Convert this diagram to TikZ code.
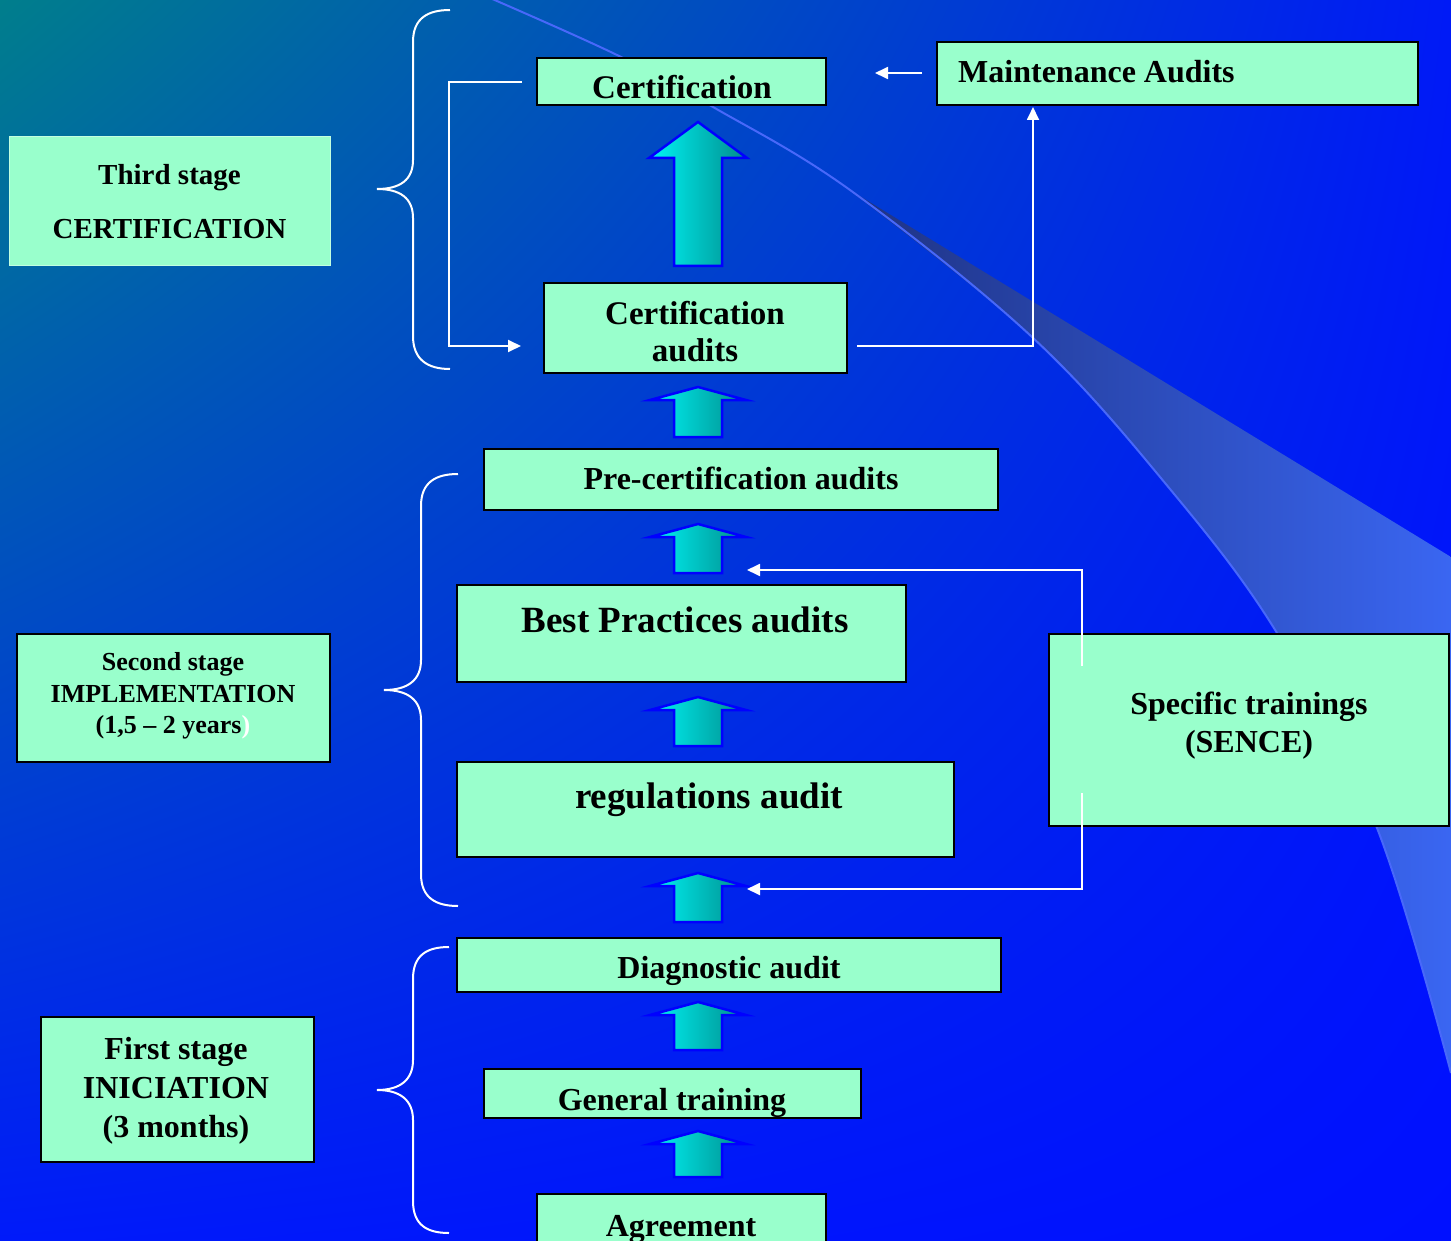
\documentclass[tikz,border=0pt]{standalone}
\usepackage{fontspec}
\setmainfont{Liberation Serif}
\usetikzlibrary{arrows.meta,shadings}
\definecolor{mint}{RGB}{153,255,204}
\definecolor{bgTL}{RGB}{0,126,140}
\definecolor{bgTR}{RGB}{0,26,246}
\definecolor{bgBL}{RGB}{0,26,250}
\definecolor{bgBR}{RGB}{0,16,255}
\definecolor{bandL}{RGB}{30,50,130}
\definecolor{bandR}{RGB}{58,102,242}
\definecolor{swline}{RGB}{72,104,250}
\definecolor{arrowblue}{RGB}{0,0,255}
\definecolor{cyanl}{RGB}{0,245,245}
\definecolor{tealr}{RGB}{0,140,140}
\tikzset{
  box/.style={draw=black, line width=2.2pt, fill=mint, inner sep=0pt, outer sep=0pt},
  lbl/.style={inner sep=0pt, anchor=base, font=\bfseries\fontsize{#1}{#1}\selectfont},
  lbl/.default=32,
  wline/.style={draw=white, line width=1.8pt},
  warrow/.style={wline, -{Triangle[length=13pt,width=12pt]}},
  brace/.style={draw=white, line width=2pt},
  uparrow/.style={draw=arrowblue, line width=2.5pt, left color=cyanl, right color=tealr, line join=miter},
}
\newcommand\boxat[5]{\node[box, minimum width={#4-#2}, minimum height={#5-#3}] (#1) at ({(#2+#4)/2},{(#3+#5)/2}) {};}
\newcommand\smallup[3]{\path[uparrow] ({#1-48},{#2+13}) -- (#1,#2) -- ({#1+48},{#2+13}) -- ({#1+24},{#2+13}) -- ({#1+24},#3) -- ({#1-24},#3) -- ({#1-24},{#2+13}) -- cycle;}
\begin{document}
\begin{tikzpicture}[x=1pt,y=-1pt]
\useasboundingbox (0,0) rectangle (1451,1241);
\clip (0,0) rectangle (1451,1241);
% background
\shade[upper left=bgTL, upper right=bgTR, lower left=bgBL, lower right=bgBR] (0,0) rectangle (1451,1241);
% swoosh band
\shade[left color=bandL, right color=bandR] (845,187) -- (1451,557) -- (1451,1073) -- plot[smooth, tension=0.6] coordinates {(1451,1073) (1377,828) (1277,633) (1165,483) (1032,337) (845,187)} -- cycle;
\draw[swline, line width=2pt] plot[smooth, tension=0.6] coordinates {(490,-2) (617,55) (713,107) (850,190) (1032,337) (1165,483) (1277,633) (1377,828) (1451,1073)};
% braces
\draw[brace] (450,10) .. controls (428,10) and (413,18) .. (413,42) -- (413,160) .. controls (413,180) and (400,189) .. (377,189) .. controls (400,189) and (413,198) .. (413,218) -- (413,336) .. controls (413,360) and (428,369) .. (450,369);
\draw[brace] (458,474) .. controls (436,474) and (421,482) .. (421,506) -- (421,660) .. controls (421,680) and (408,690) .. (384,690) .. controls (408,690) and (421,700) .. (421,720) -- (421,874) .. controls (421,898) and (436,906) .. (458,906);
\draw[brace] (449,947) .. controls (427,947) and (413,955) .. (413,979) -- (413,1060) .. controls (413,1080) and (400,1090) .. (377,1090) .. controls (400,1090) and (413,1100) .. (413,1120) -- (413,1201) .. controls (413,1225) and (427,1233) .. (449,1233);
% boxes
\node[box, draw=mint!60!white, line width=1pt, minimum width=321, minimum height=129] (third) at (169.5,201.5) {};
\boxat{cert}{537}{58}{826}{105}
\boxat{maint}{937}{42}{1418}{105}
\boxat{certaud}{544}{283}{847}{373}
\boxat{precert}{484}{449}{998}{510}
\boxat{best}{457}{585}{906}{682}
\boxat{regs}{457}{762}{954}{857}
\boxat{spec}{1049}{634}{1449}{826}
\boxat{second}{17}{634}{330}{762}
\boxat{diag}{457}{938}{1001}{992}
\boxat{gen}{484}{1069}{861}{1118}
\boxat{agree}{537}{1194}{826}{1262}
\boxat{first}{41}{1017}{314}{1162}
% block arrows
\path[uparrow] (649,158) -- (698,122) -- (747,158) -- (722,158) -- (722,266) -- (674,266) -- (674,158) -- cycle;
\smallup{698}{387}{437}
\smallup{698}{524}{573}
\smallup{698}{697}{746}
\smallup{698}{873}{922}
\smallup{698}{1002}{1050}
\smallup{698}{1131}{1177}
% connector end points
\coordinate (certL) at (522,82);
\coordinate (caL) at (521,346);
\coordinate (caR) at (857,346);
\coordinate (maintB) at (1033,107);
\coordinate (maintL) at (922,73);
\coordinate (certR) at (875,73);
\coordinate (spUp) at (1082,666);
\coordinate (spDn) at (1082,793);
\coordinate (a2R) at (747,570);
\coordinate (a4R) at (747,889);
% connectors
\draw[warrow] (certL) -- ++(-73,0) |- (caL);
\draw[warrow] (caR) -| (maintB);
\draw[warrow] (maintL) -- (certR);
\draw[warrow] (spUp) |- (a2R);
\draw[warrow] (spDn) |- (a4R);
% texts
\node[lbl=29] (third1) at (169.5,185) {Third stage};
\node[lbl=29] (third2) at (169.5,239) {CERTIFICATION};
\node[lbl=33] (certT) at (682,99) {Certification};
\node[lbl=32, anchor=base west] (maintT) at (958,83) {Maintenance Audits};
\node[lbl=33] (certaud1) at (695,324) {Certification};
\node[lbl=33] (certaud2) at (695,361) {audits};
\node[lbl=32] (precertT) at (741,489) {Pre-certification audits};
\node[lbl=37] (bestT) at (685,632) {Best Practices audits};
\node[lbl=37] (regsT) at (709,808) {regulations audit};
\node[lbl=32] (spec1) at (1249,714) {Specific trainings};
\node[lbl=32] (spec2) at (1249,752) {(SENCE)};
\node[lbl=26] (second1) at (173,670) {Second stage};
\node[lbl=26] (second2) at (173,702) {IMPLEMENTATION};
\node[lbl=26] (second3) at (173,733) {(1,5 – 2 years\textcolor{white}{)}};
\node[lbl=32] (diagT) at (729,978) {Diagnostic audit};
\node[lbl=32] (genT) at (672,1110) {General training};
\node[lbl=32] (agreeT) at (681,1236) {Agreement};
\node[lbl=32] (first1) at (176,1059) {First stage};
\node[lbl=32] (first2) at (176,1098) {INICIATION};
\node[lbl=32] (first3) at (176,1137) {(3 months)};
\end{tikzpicture}
\end{document}
